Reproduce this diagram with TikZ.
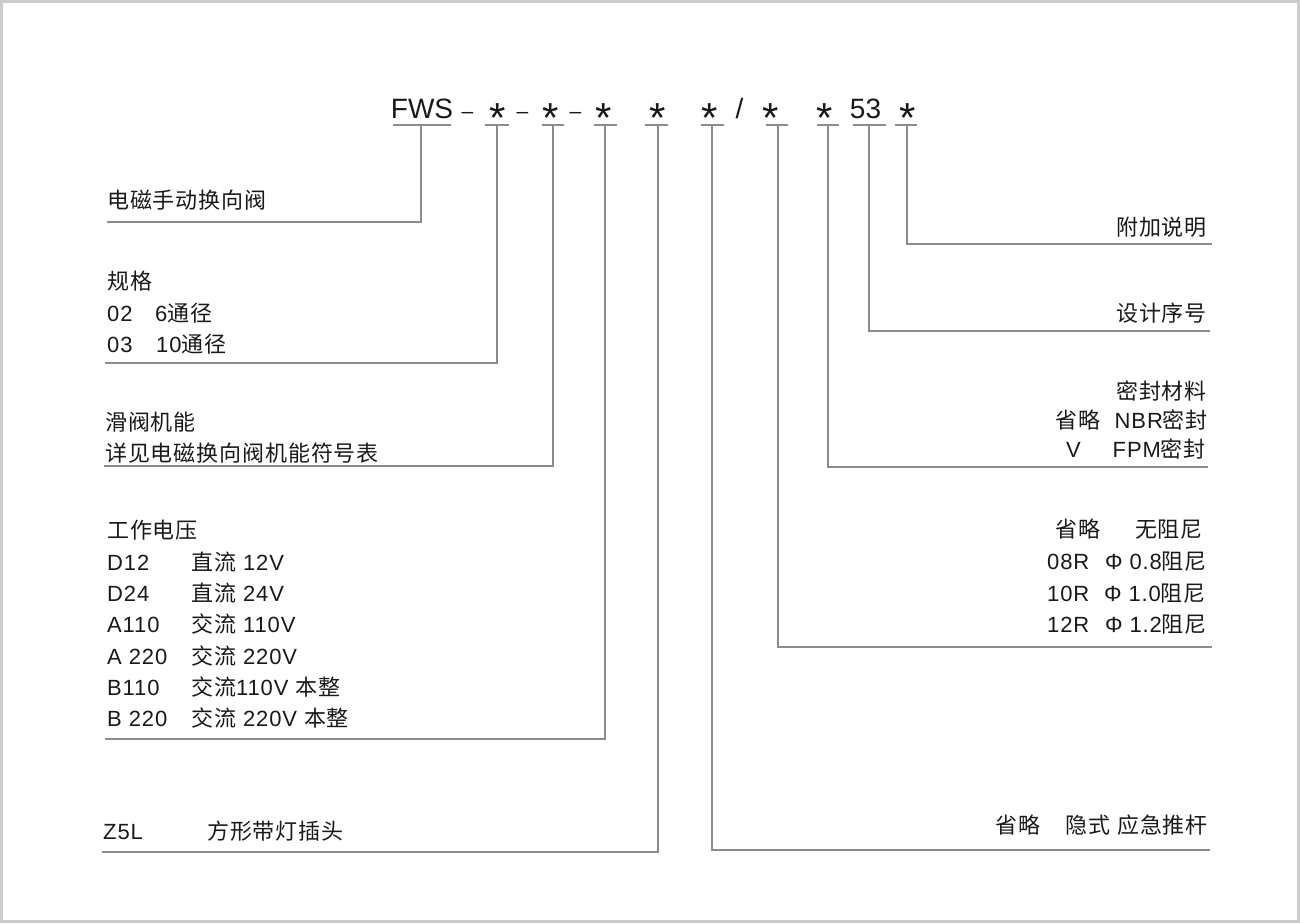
\documentclass[tikz,border=0pt]{standalone}
\usepackage{fontspec}
\setmainfont{Liberation Sans}
\newfontfamily\lat[LetterSpace=4]{Liberation Sans}
\newfontfamily\cjk[LetterSpace=4]{Noto Sans CJK SC}
\newcommand\zh[1]{{\cjk #1}}
\definecolor{linegray}{RGB}{140,140,140}
\definecolor{framegray}{RGB}{204,204,204}
\definecolor{ink}{RGB}{25,25,25}
\tikzset{
  lbl/.style={inner sep=0pt, text=ink, font=\lat\fontsize{22}{26}\selectfont},
  codetxt/.style={inner sep=0pt, anchor=base, text=ink, font=\fontsize{28}{32}\selectfont},
  dashtxt/.style={inner sep=0pt, anchor=base, text=ink, font=\fontsize{21}{25}\selectfont},
  startxt/.style={inner sep=0pt, anchor=base, text=ink, font=\fontsize{42}{46}\selectfont},
  ln/.style={draw=linegray, line width=1.5pt},
}
\begin{document}
\begin{tikzpicture}[x=1pt,y=-1pt]
\useasboundingbox (0,0) rectangle (1300,923);
\draw[framegray, line width=3pt] (1.5,1.5) rectangle (1298.5,921.5);

% ---- code row ----
\node[codetxt] (fws) at (422,119) {FWS};
\node[dashtxt] (d1) at (467.5,118) {–};
\node[startxt] (s1) at (497.5,132.5) {*};
\node[dashtxt] (d2) at (522.5,118) {–};
\node[startxt] (s2) at (551,132.5) {*};
\node[dashtxt] (d3) at (575.5,118) {–};
\node[startxt] (s3) at (603.5,132.5) {*};
\node[startxt] (s4) at (657.5,132.5) {*};
\node[startxt] (s5) at (709.5,132.5) {*};
\node[codetxt] (sl) at (739.5,119) {/};
\node[startxt] (s6) at (770.5,132.5) {*};
\node[startxt] (s7) at (825,132.5) {*};
\node[codetxt] (n53) at (865.5,119) {53};
\node[startxt] (s8) at (907.5,132.5) {*};

% underlines
\foreach \a/\b in {393/451,485/509,542/564,594/617,645/668,701/724,766/788,817/839,853/886,895/917}
  \draw[ln] (\a,125) -- (\b,125);

% tick tops and line ends
\coordinate (t0) at (421,125); \coordinate (e0) at (107,222);
\coordinate (t1) at (497,125); \coordinate (e1) at (105,363);
\coordinate (t2) at (553,125); \coordinate (e2) at (104,466);
\coordinate (t3) at (605,125); \coordinate (e3) at (105,739);
\coordinate (t4) at (658,125); \coordinate (e4) at (102,852);
\coordinate (t5) at (712,125); \coordinate (e5) at (1210,850);
\coordinate (t6) at (778,125); \coordinate (e6) at (1212,647);
\coordinate (t7) at (828,125); \coordinate (e7) at (1208,467);
\coordinate (t8) at (869,125); \coordinate (e8) at (1210,331);
\coordinate (t9) at (907,125); \coordinate (e9) at (1212,244);
\foreach \i in {0,...,9} \draw[ln] (t\i) |- (e\i);

% ---- left descriptions ----
\node[lbl, anchor=base west] (l0) at (107,208) {\zh{电磁手动换向阀}};

\node[lbl, anchor=base west] (l1h) at (107,289) {\zh{规格}};
\node[lbl, anchor=base west] (l1a) at (107,321) {02};
\node[lbl, anchor=base west] (l1b) at (155,321) {6\zh{通径}};
\node[lbl, anchor=base west] (l1c) at (107,352) {03};
\node[lbl, anchor=base west] (l1d) at (156,352) {10\zh{通径}};

\node[lbl, anchor=base west] (l2h) at (105,430) {\zh{滑阀机能}};
\node[lbl, anchor=base west] (l2a) at (105,461) {\zh{详见电磁换向阀机能符号表}};

\node[lbl, anchor=base west] (l3h) at (107,538) {\zh{工作电压}};
\node[lbl, anchor=base west] (l3a) at (107,570) {D12};
\node[lbl, anchor=base west] (l3b) at (191,570) {\zh{直流} 12V};
\node[lbl, anchor=base west] (l3c) at (107,601) {D24};
\node[lbl, anchor=base west] (l3d) at (191,601) {\zh{直流} 24V};
\node[lbl, anchor=base west] (l3e) at (107,632) {A110};
\node[lbl, anchor=base west] (l3f) at (191,632) {\zh{交流} 110V};
\node[lbl, anchor=base west] (l3g) at (107,664) {A 220};
\node[lbl, anchor=base west] (l3h2) at (191,664) {\zh{交流} 220V};
\node[lbl, anchor=base west] (l3i) at (107,695) {B110};
\node[lbl, anchor=base west] (l3j) at (191,695) {\zh{交流}110V \zh{本整}};
\node[lbl, anchor=base west] (l3k) at (107,726) {B 220};
\node[lbl, anchor=base west] (l3l) at (191,726) {\zh{交流} 220V \zh{本整}};

\node[lbl, anchor=base west] (l4a) at (103,839) {Z5L};
\node[lbl, anchor=base west] (l4b) at (207,839) {\zh{方形带灯插头}};

% ---- right descriptions ----
\node[lbl, anchor=base east] (r9) at (1207,235) {\zh{附加说明}};
\node[lbl, anchor=base east] (r8) at (1207,321) {\zh{设计序号}};

\node[lbl, anchor=base east] (r7h) at (1207,399) {\zh{密封材料}};
\node[lbl, anchor=base west] (r7a) at (1055,428) {\zh{省略}};
\node[lbl, anchor=base east] (r7b) at (1208,428) {NBR\zh{密封}};
\node[lbl, anchor=base west] (r7c) at (1066,457) {V};
\node[lbl, anchor=base east] (r7d) at (1206,457) {FPM\zh{密封}};

\node[lbl, anchor=base west] (r6a) at (1055,537) {\zh{省略}};
\node[lbl, anchor=base east] (r6b) at (1203,537) {\zh{无阻尼}};
\node[lbl, anchor=base west] (r6c) at (1047,569) {08R};
\node[lbl, anchor=base east] (r6d) at (1207,569) {Φ 0.8\zh{阻尼}};
\node[lbl, anchor=base west] (r6e) at (1047,601) {10R};
\node[lbl, anchor=base east] (r6f) at (1206,601) {Φ 1.0\zh{阻尼}};
\node[lbl, anchor=base west] (r6g) at (1047,632) {12R};
\node[lbl, anchor=base east] (r6h) at (1207,632) {Φ 1.2\zh{阻尼}};

\node[lbl, anchor=base west] (r5a) at (995,833) {\zh{省略}};
\node[lbl, anchor=base east] (r5b) at (1208,833) {\zh{隐式}\hspace{7pt}\zh{应急推杆}};
\end{tikzpicture}
\end{document}
